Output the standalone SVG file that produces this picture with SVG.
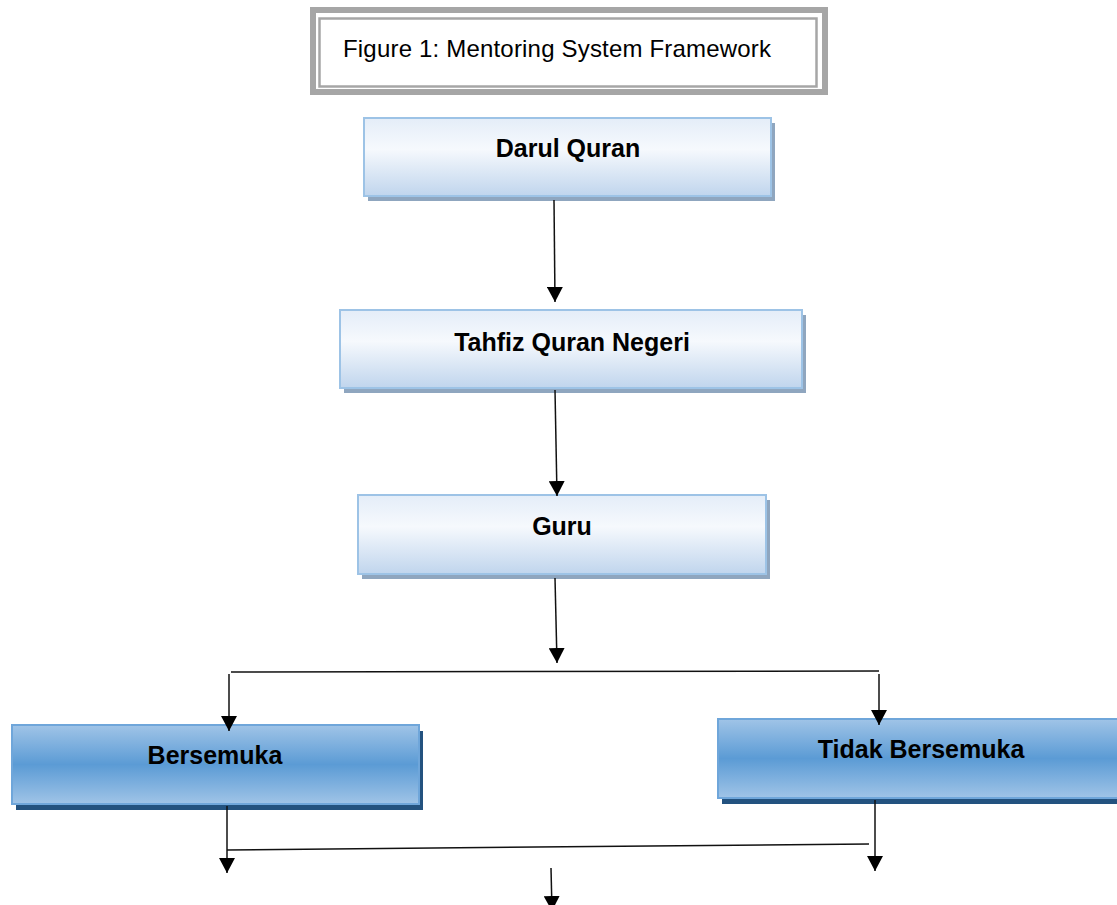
<svg xmlns="http://www.w3.org/2000/svg" width="1117" height="905" viewBox="0 0 1117 905">
<defs>
<linearGradient id="gLight" x1="0" y1="0" x2="0" y2="1">
<stop offset="0" stop-color="#E4EDF8"/>
<stop offset="0.4" stop-color="#F6F9FD"/>
<stop offset="1" stop-color="#C0D5ED"/>
</linearGradient>
<linearGradient id="gDark" x1="0" y1="0" x2="0" y2="1">
<stop offset="0" stop-color="#A0C4E7"/>
<stop offset="0.5" stop-color="#5B9BD5"/>
<stop offset="1" stop-color="#A0C4E7"/>
</linearGradient>
<marker id="arr" markerUnits="userSpaceOnUse" markerWidth="16" markerHeight="16" refX="15" refY="8" orient="auto" viewBox="0 0 16 16">
<path d="M0,0 L15,8 L0,16 Z" fill="#000"/>
</marker>
<style>
.light{fill:url(#gLight);stroke:#9DC3E6;stroke-width:2}
.lshadow{fill:#8FA6BF}
.dark{fill:url(#gDark);stroke:#6FA6DA;stroke-width:2}
.dshadow{fill:#23527F}
.lbl{font-family:"Liberation Sans",Arial,sans-serif;font-weight:bold;font-size:25px;fill:#000;text-anchor:middle}
.con{stroke:#111;stroke-width:1.5;fill:none}
</style>
</defs>
<rect width="1117" height="905" fill="#fff"/>
<g id="title">
<rect x="313" y="10" width="512" height="82" fill="#fff" stroke="#A6A6A6" stroke-width="6"/>
<rect x="319.5" y="18.5" width="497" height="68" fill="none" stroke="#A6A6A6" stroke-width="2.5"/>
<text x="343" y="57" font-family="'Liberation Sans',Arial,sans-serif" font-size="24" fill="#000" textLength="428">Figure 1: Mentoring System Framework</text>
</g>
<g id="darul-quran">
<rect class="lshadow" x="368" y="123" width="407" height="78"/>
<rect class="light" x="364" y="118" width="407" height="78"/>
<text class="lbl" x="568" y="157">Darul Quran</text>
</g>
<g id="tahfiz">
<rect class="lshadow" x="344" y="315" width="462" height="78"/>
<rect class="light" x="340" y="310" width="462" height="78"/>
<text class="lbl" x="572" y="351">Tahfiz Quran Negeri</text>
</g>
<g id="guru">
<rect class="lshadow" x="362" y="500" width="408" height="79"/>
<rect class="light" x="358" y="495" width="408" height="79"/>
<text class="lbl" x="562" y="535">Guru</text>
</g>
<g id="bersemuka">
<rect class="dshadow" x="16" y="731" width="407" height="79"/>
<rect class="dark" x="12" y="725" width="407" height="79"/>
<text class="lbl" x="215" y="764">Bersemuka</text>
</g>
<g id="tidak-bersemuka">
<rect class="dshadow" x="722" y="725" width="420" height="79"/>
<rect class="dark" x="718" y="719" width="420" height="79"/>
<text class="lbl" x="921" y="758">Tidak Bersemuka</text>
</g>
<g id="connectors">
<line class="con" x1="554" y1="200" x2="555" y2="302" marker-end="url(#arr)"/>
<line class="con" x1="555" y1="390" x2="557" y2="496" marker-end="url(#arr)"/>
<line class="con" x1="555" y1="578" x2="557" y2="663" marker-end="url(#arr)"/>
<line class="con" x1="231" y1="672" x2="879" y2="671"/>
<line class="con" x1="229" y1="674" x2="229" y2="731" marker-end="url(#arr)"/>
<line class="con" x1="879" y1="674" x2="879" y2="725" marker-end="url(#arr)"/>
<line class="con" x1="227" y1="806" x2="227" y2="873" marker-end="url(#arr)"/>
<line class="con" x1="227" y1="850" x2="869" y2="844"/>
<line class="con" x1="875" y1="800" x2="875" y2="871" marker-end="url(#arr)"/>
<line class="con" x1="551" y1="868" x2="552" y2="911" marker-end="url(#arr)"/>
</g>
</svg>
